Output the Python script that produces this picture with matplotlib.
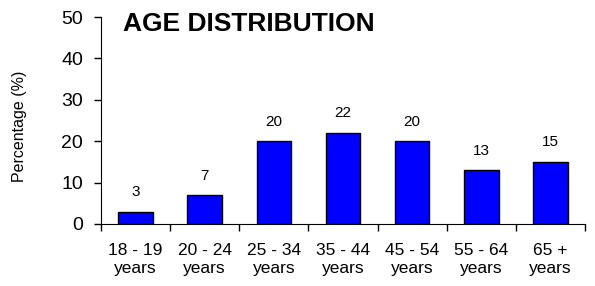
import numpy as np
import matplotlib
matplotlib.use("Agg")
from matplotlib import pyplot as plt

categories = ["18 - 19\nyears", "20 - 24\nyears", "25 - 34\nyears", "35 - 44\nyears",
              "45 - 54\nyears", "55 - 64\nyears", "65 +\nyears"]
percentages = [3, 7, 20, 22, 20, 13, 15]
y_ticks = [0, 10, 20, 30, 40, 50]

plt.rcParams['font.family'] = ['Liberation Sans', 'DejaVu Sans']

fig = plt.figure(figsize=(5.95, 2.86), dpi=100)
ax = fig.add_axes([101/595, 1 - 224/286, 484/595, 207/286])

x = np.arange(len(categories))
bars = ax.bar(x, percentages, width=0.5, color="#0000FF", edgecolor="black", linewidth=1)

for xi, v in zip(x, percentages):
    ax.annotate(str(v), (xi, v), xytext=(0, 9), textcoords="offset points",
                ha="center", va="bottom", fontsize=11)

ax.set_xlim(-0.5, len(categories) - 0.5)
ax.set_ylim(0, 50)
ax.set_yticks(y_ticks)
ax.tick_params(axis="y", labelsize=14, length=5, width=1, pad=8)

ax.set_xticks(x)
ax.set_xticklabels(categories, fontsize=12.5, linespacing=1.2)
ax.set_xticks(np.arange(len(categories) + 1) - 0.5, minor=True)
ax.tick_params(axis="x", which="major", length=0, pad=14)
ax.tick_params(axis="x", which="minor", length=5, width=1)

ax.spines["top"].set_visible(False)
ax.spines["right"].set_visible(False)

fig.text(123/595, 1 - 12/286, "AGE DISTRIBUTION", fontsize=19, fontweight="bold", va="top", ha="left")
fig.text(20/595, 1 - 126/286, "Percentage (%)", rotation=90, fontsize=11.5, va="center", ha="center")

fig.savefig("out.png", dpi=100)
